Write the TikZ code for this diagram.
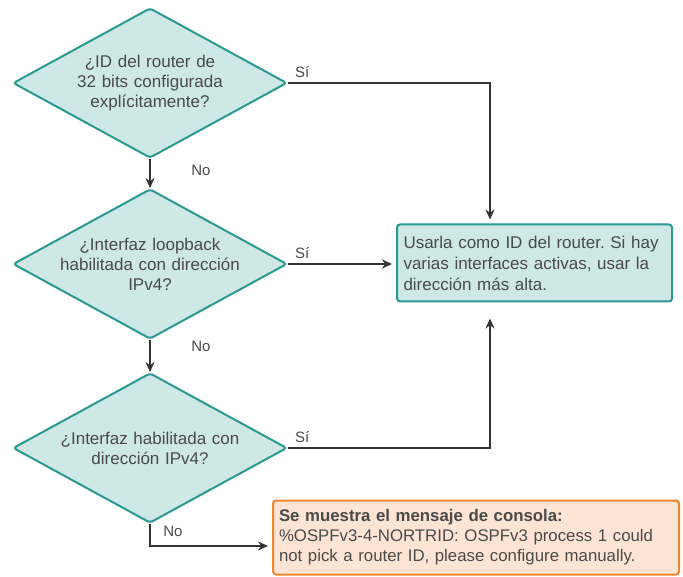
\documentclass[tikz,border=0pt]{standalone}
\usepackage{fontspec}
\setmainfont{Liberation Sans}
\frenchspacing
\usetikzlibrary{arrows.meta}
\usetikzlibrary{shapes.geometric}
\usetikzlibrary{positioning}

\definecolor{tealline}{HTML}{2A9A90}
\definecolor{tealfill}{HTML}{CDE8E6}
\definecolor{orangeline}{HTML}{F2852F}
\definecolor{orangefill}{HTML}{FDE4D4}
\definecolor{textgray}{HTML}{4A4A4A}
\definecolor{linegray}{HTML}{333333}

\tikzset{
  decision/.style={diamond, draw=tealline, fill=tealfill, line width=2pt,
    rounded corners=3pt, aspect=1.83, inner sep=0pt,
    minimum width=274pt, minimum height=150pt},
  decisiontext/.style={text width=210pt, align=center, text=textgray,
    font=\fontsize{17}{20}\selectfont},
  resultbox/.style={rectangle, draw=tealline, fill=tealfill, line width=2pt,
    rounded corners=3pt, minimum width=275pt, minimum height=77pt,
    text width=262pt, align=left, text=textgray,
    font=\fontsize{17}{21}\selectfont},
  errorbox/.style={rectangle, draw=orangeline, fill=orangefill, line width=2pt,
    rounded corners=3pt, minimum width=406pt, minimum height=74pt,
    text width=394pt, align=left, text=textgray,
    font=\fontsize{16.8}{20}\selectfont},
  flow/.style={draw=linegray, line width=1.8pt, -{Stealth[length=10pt,width=9pt]}},
  answer/.style={text=textgray, font=\fontsize{15}{17}\selectfont, inner sep=1pt}
}

\begin{document}
\begin{tikzpicture}[x=1pt, y=-1pt]
  \useasboundingbox (0,0) rectangle (683,577);

  % decisiones
  \node[decision] (dRouterId) at (150,83) {};
  \node[decisiontext] (tRouterId) at (dRouterId.center)
    {¿ID del router de\\32 bits configurada\\explícitamente?};
  \node[decision] (dLoopback) at (150,264) {};
  \node[decisiontext] (tLoopback) at (dLoopback.center)
    {¿Interfaz loopback\\habilitada con dirección\\IPv4?};
  \node[decision] (dInterfaz) at (150,448) {};
  \node[decisiontext] (tInterfaz) at (dInterfaz.center)
    {¿Interfaz habilitada con\\dirección IPv4?};

  % resultados
  \node[resultbox] (usar) at (534.5,263)
    {Usarla como ID del router. Si hay\\varias interfaces activas, usar la\\dirección más alta.};
  \node[errorbox] (consola) at (476,537.5)
    {\textbf{Se muestra el mensaje de consola:}\\\%OSPFv3-4-NORTRID: OSPFv3 process 1 could\\not pick a router ID, please configure manually.};

  % Sí
  \coordinate (esqSi1) at (490,83);
  \coordinate (esqSi3) at (490,448);
  \draw[flow] (dRouterId.east) -- (esqSi1) -- ([yshift=4pt]usar.north -| esqSi1);
  \draw[flow] (dLoopback.east) -- ([xshift=-4pt]usar.west |- dLoopback.east);
  \draw[flow] (dInterfaz.east) -- (esqSi3) -- ([yshift=-16pt]usar.south -| esqSi3);
  \node[answer, anchor=south west] (si1) at ([xshift=6pt,yshift=4pt]dRouterId.east) {Sí};
  \node[answer, anchor=south west] (si2) at ([xshift=6pt,yshift=4pt]dLoopback.east) {Sí};
  \node[answer, anchor=south west] (si3) at ([xshift=6pt,yshift=4pt]dInterfaz.east) {Sí};

  % No
  \draw[flow] (dRouterId.south) -- (dLoopback.north);
  \draw[flow] (dLoopback.south) -- (dInterfaz.north);
  \coordinate (esqNo3) at (150,546);
  \draw[flow] (dInterfaz.south) -- (esqNo3) -- ([xshift=-4pt]consola.west |- esqNo3);
  \node[answer] (no1) at (201,170) {No};
  \node[answer] (no2) at (201,346) {No};
  \node[answer] (no3) at (173,531) {No};
\end{tikzpicture}
\end{document}
